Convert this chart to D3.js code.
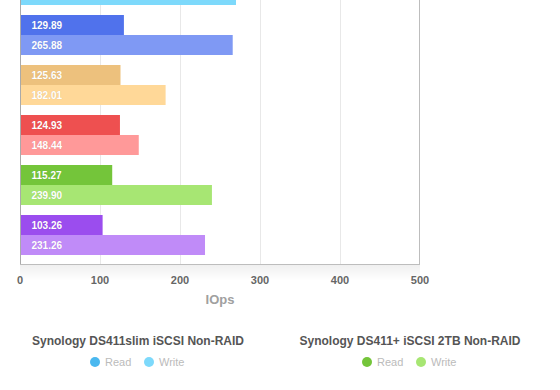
<!DOCTYPE html>
<html><head><meta charset="utf-8">
<script src="https://cdn.jsdelivr.net/npm/d3@7"></script>
<style>
html,body{margin:0;padding:0;background:#fff;overflow:hidden}
svg{display:block;font-family:"Liberation Sans",Arial,Helvetica,sans-serif}
</style></head>
<body><svg id="c" width="560" height="390"></svg>
<script>
// Data (chart is scrolled: first group partly above the view)
const categories = ["Synology DS411slim iSCSI Non-RAID", "Group 2", "Group 3", "Group 4", "Synology DS411+ iSCSI 2TB Non-RAID", "Group 6"];
const readValues  = [130.00, 129.89, 125.63, 124.93, 115.27, 103.26];
const writeValues = [270.00, 265.88, 182.01, 148.44, 239.90, 231.26];
const readColors  = ["#4ab8ef", "#5072ec", "#edc17d", "#ee5050", "#74c53a", "#9b4dee"];
const writeColors = ["#7dd9fb", "#7f99f4", "#ffd898", "#ff9999", "#a7e673", "#c08bf8"];
const xTicks = [0, 100, 200, 300, 400, 500];
const seriesNames = ["Read", "Write"];
const legendGroups = [0, 4];

const svg = d3.select("#c");
const x = d3.scaleLinear().domain([0, 500]).range([20, 420]);
const y = d3.scaleBand().domain(categories).range([-44, 264]).paddingInner(0.2).paddingOuter(0.18);
const ys = d3.scaleBand().domain(seriesNames).range([0, y.bandwidth()]);

// bottom shadow
const defs = svg.append("defs");
const g1 = defs.append("linearGradient").attr("id","sh").attr("x1",0).attr("x2",0).attr("y1",0).attr("y2",1);
g1.append("stop").attr("offset","0%").attr("stop-color","#000").attr("stop-opacity",0.06);
g1.append("stop").attr("offset","100%").attr("stop-color","#000").attr("stop-opacity",0);
svg.append("rect").attr("x",20).attr("y",265).attr("width",400).attr("height",16).attr("fill","url(#sh)");

// grid
svg.append("g").selectAll("line").data(xTicks.slice(1, -1)).join("line")
  .attr("x1", d => x(d) + 0.5).attr("x2", d => x(d) + 0.5)
  .attr("y1", 0).attr("y2", 264).attr("stroke", "#e8e8e8");
svg.append("line").attr("x1", x(500) - 0.5).attr("x2", x(500) - 0.5).attr("y1", 0).attr("y2", 264).attr("stroke", "#bdbdbd");

// bars
const rows = [];
categories.forEach((c, i) => {
  rows.push({c, s: "Read", v: readValues[i], col: readColors[i]});
  rows.push({c, s: "Write", v: writeValues[i], col: writeColors[i]});
});
const bars = svg.append("g");
bars.selectAll("rect").data(rows).join("rect")
  .attr("x", x(0)).attr("y", d => y(d.c) + ys(d.s))
  .attr("width", d => x(d.v) - x(0)).attr("height", ys.bandwidth())
  .attr("fill", d => d.col);
bars.selectAll("text").data(rows.filter(d => y(d.c) + ys(d.s) >= 0)).join("text")
  .attr("x", x(0) + 11.5).attr("y", d => y(d.c) + ys(d.s) + ys.bandwidth() / 2 + 3.6)
  .attr("fill", "#fff").attr("font-size", 10).attr("font-weight", "bold")
  .style("text-shadow", "0 0 1px rgba(0,0,0,0.15)")
  .text(d => d.v.toFixed(2));

// axes lines
svg.append("line").attr("x1", 20.5).attr("x2", 20.5).attr("y1", 0).attr("y2", 264.5).attr("stroke", "#aaa");
svg.append("line").attr("x1", 20).attr("x2", 420).attr("y1", 264.5).attr("y2", 264.5).attr("stroke", "#bdbdbd");

// x tick labels
svg.append("g").selectAll("text").data(xTicks).join("text")
  .attr("x", d => x(d)).attr("y", 284).attr("text-anchor", "middle")
  .attr("font-size", 11).attr("font-weight", "bold").attr("fill", "#666")
  .text(d => d);
svg.append("text").attr("x", 220).attr("y", 304).attr("text-anchor", "middle")
  .attr("font-size", 13).attr("font-weight", "bold").attr("fill", "#a0a0a0").text("IOps");

// legends
const legendCenters = [138, 410];
const leg = svg.append("g").selectAll("g").data(legendGroups).join("g")
  .attr("transform", (d, i) => `translate(${legendCenters[i]},0)`);
leg.append("text").attr("x", 0).attr("y", 345).attr("text-anchor", "middle")
  .attr("font-size", 12).attr("font-weight", "bold").attr("fill", "#555")
  .text(d => categories[d]);
[["Read", readColors, -43], ["Write", writeColors, 11]].forEach(([name, cols, off]) => {
  const li = leg.append("g").attr("transform", `translate(${off},0)`);
  li.append("circle").attr("cx", 0).attr("cy", 362).attr("r", 5).attr("fill", d => cols[d]);
  li.append("text").attr("x", 10).attr("y", 366).attr("font-size", 11).attr("fill", "#bbb").text(name);
});
</script></body></html>
